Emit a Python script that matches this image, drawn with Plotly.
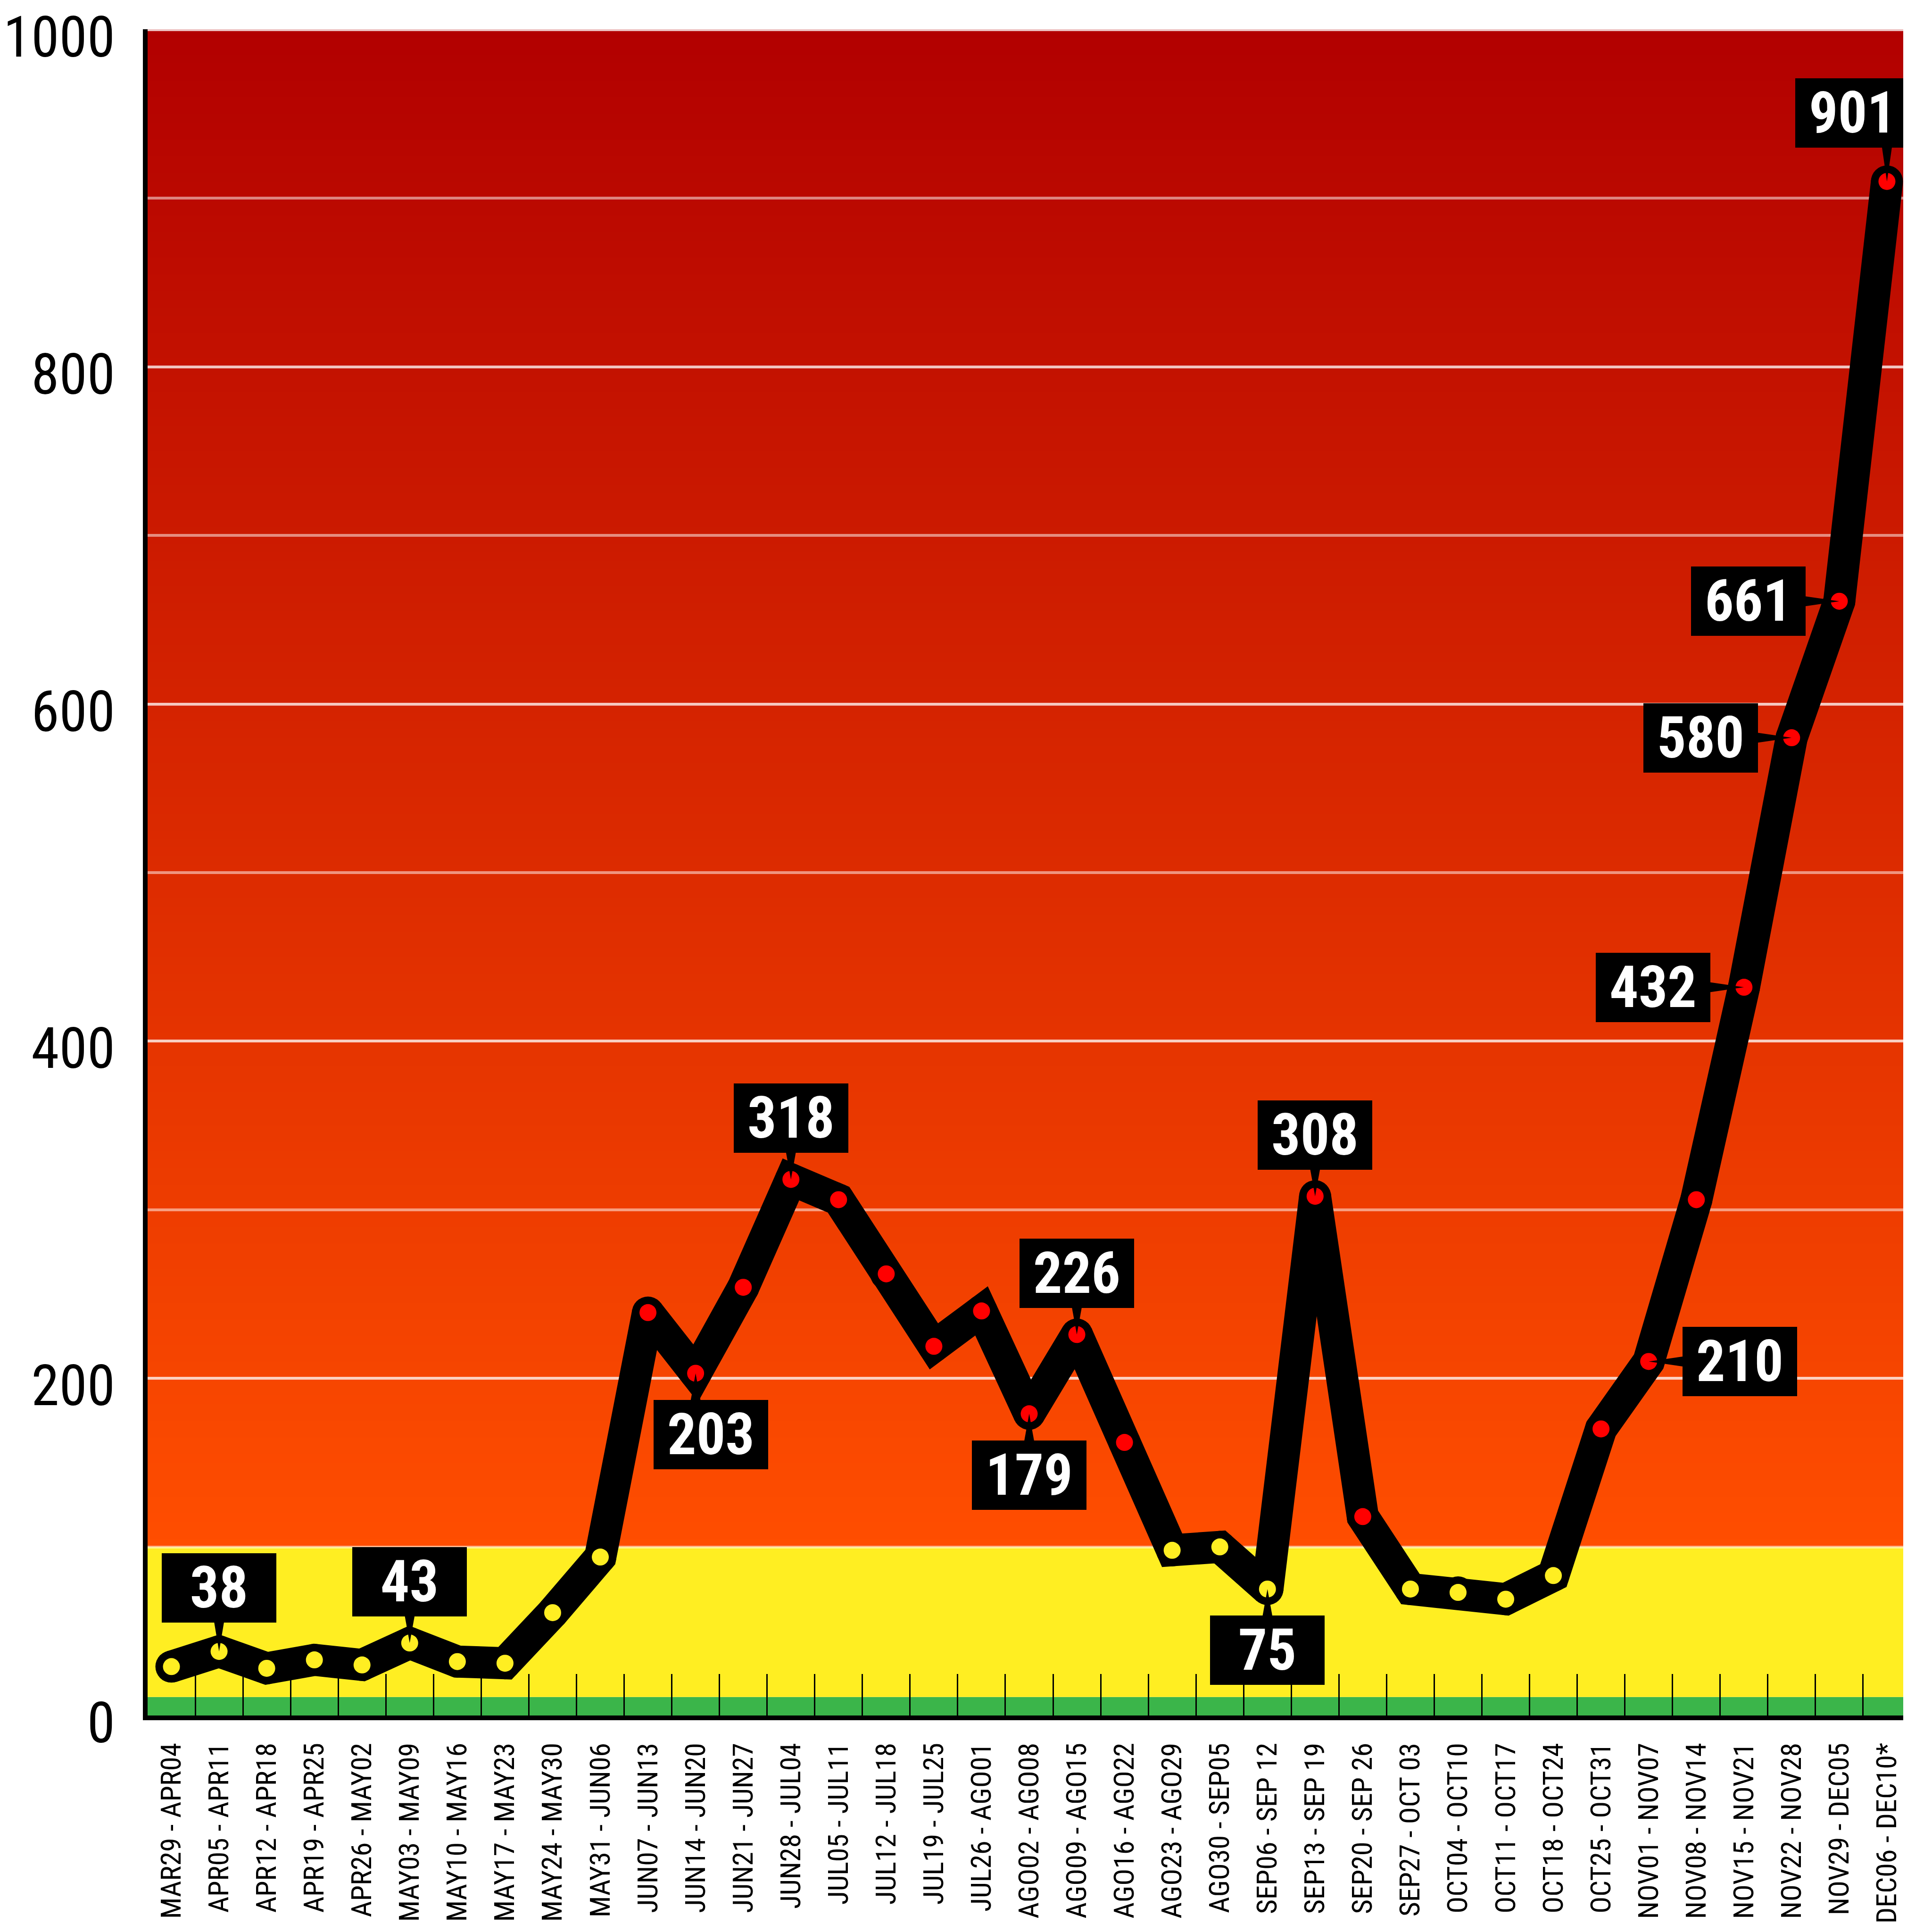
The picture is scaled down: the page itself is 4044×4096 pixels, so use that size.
import plotly.graph_objects as go

# ---------------- data ----------------
weeks = ["MAR29 - APR04", "APR05 - APR11", "APR12 - APR18", "APR19 - APR25", "APR26 - MAY02",
         "MAY03 - MAY09", "MAY10 - MAY16", "MAY17 - MAY23", "MAY24 - MAY30", "MAY31 - JUN06",
         "JUN07 - JUN13", "JUN14 - JUN20", "JUN21 - JUN27", "JUN28 - JUL04", "JUL05 - JUL11",
         "JUL12 - JUL18", "JUL19 - JUL25", "JUL26 - AGO01", "AGO02 - AGO08", "AGO09 - AGO15",
         "AGO16 - AGO22", "AGO23 - AGO29", "AGO30 - SEP05", "SEP06 - SEP 12", "SEP13 - SEP 19",
         "SEP20 - SEP 26", "SEP27 - OCT 03", "OCT04 - OCT10", "OCT11 - OCT17", "OCT18 - OCT24",
         "OCT25 - OCT31", "NOV01 - NOV07", "NOV08 - NOV14", "NOV15 - NOV21", "NOV22 - NOV28",
         "NOV29 - DEC05", "DEC06 - DEC10*"]
cases = [29, 38, 28, 33, 30, 43, 32, 31, 61, 94, 239, 203, 254, 318, 306, 262, 219, 240, 179,
         226, 162, 98, 100, 75, 308, 118, 75, 73, 69, 83, 170, 210, 306, 432, 580, 661, 910]
callout_index = [1, 5, 11, 13, 18, 19, 23, 24, 31, 33, 34, 35, 36]
callout_text = ["38", "43", "203", "318", "179", "226", "75", "308", "210", "432", "580", "661", "901"]
y_ticks = [0, 200, 400, 600, 800, 1000]
green_top = 11
yellow_top = 100
y_max = 1000

# ---------------- style ----------------
callout_side = ["up", "up", "down", "up", "down", "up", "down", "up", "right", "left", "left", "left", "up"]
side_shift = {"up": (0, 130), "down": (0, -130), "right": (193, 0), "left": (-193, 0)}
shift_override = {1: (0, 135), 11: (32, -130), 36: (-73, 145)}
BOX_W, BOX_H = 243, 147
WEDGE = 22
FONT = "Roboto Condensed, DejaVu Sans Condensed, sans-serif"
GREEN = "#3BB54A"
YELLOW = "#FFEE22"
RED_DOT = "#FF0000"
LOW = (255, 78, 0)
HIGH = (178, 0, 0)
LINE_W = 68
DOT = 36

fig = go.Figure()

# thick black line with round joins
fig.add_trace(go.Scatter(
    x=weeks, y=cases, mode="lines+markers",
    line=dict(color="black", width=LINE_W),
    marker=dict(color="black", size=LINE_W, line=dict(width=0)),
    hoverinfo="skip", showlegend=False))
# coloured dots
fig.add_trace(go.Scatter(
    x=weeks, y=cases, mode="markers",
    marker=dict(color=[YELLOW if v <= yellow_top else RED_DOT for v in cases],
                size=DOT, line=dict(width=0)),
    hoverinfo="skip", showlegend=False))

shapes = []
# background zones
shapes.append(dict(type="rect", xref="paper", yref="y", x0=0, x1=1, y0=0, y1=green_top,
                   fillcolor=GREEN, line=dict(width=0), layer="below"))
shapes.append(dict(type="rect", xref="paper", yref="y", x0=0, x1=1, y0=green_top, y1=yellow_top,
                   fillcolor=YELLOW, line=dict(width=0), layer="below"))
step = 5
for y0 in range(yellow_top, y_max, step):
    t = (y0 + step / 2 - yellow_top) / (y_max - yellow_top)
    c = tuple(round(LOW[k] + (HIGH[k] - LOW[k]) * t) for k in range(3))
    shapes.append(dict(type="rect", xref="paper", yref="y", x0=0, x1=1, y0=y0,
                       y1=min(y0 + step + 0.6, y_max + 5),
                       fillcolor="rgb(%d,%d,%d)" % c, line=dict(width=0), layer="below"))

annotations = []
for k, idx in enumerate(callout_index):
    side = callout_side[k]
    dx, dy = shift_override.get(idx, side_shift[side])
    xc, yv = weeks[idx], cases[idx]
    h = WEDGE / 2
    if side in ("up", "down"):
        sgn = 1 if dy > 0 else -1
        L = sgn * (abs(dy) - BOX_H / 2 + 4)
        path = f"M 0 0 L {-h} {L} L {h} {L} Z"
    else:
        sgn = 1 if dx > 0 else -1
        L = sgn * (abs(dx) - BOX_W / 2 + 4)
        path = f"M 0 0 L {L} {h} L {L} {-h} Z"
    shapes.append(dict(type="path", xref="x", yref="y", xsizemode="pixel", ysizemode="pixel",
                       xanchor=xc, yanchor=yv, path=path, fillcolor="black",
                       line=dict(width=0), layer="above"))
    annotations.append(dict(x=xc, y=yv, xref="x", yref="y", text=callout_text[k], showarrow=False,
                            xshift=dx, yshift=dy, width=BOX_W, height=BOX_H, bgcolor="black",
                            borderpad=0, borderwidth=0, align="center", valign="middle",
                            font=dict(family=FONT, size=122, color="white", weight="bold")))

fig.update_layout(
    width=4044, height=4096,
    margin=dict(l=305, r=0, t=54, b=467, pad=0, autoexpand=False),
    paper_bgcolor="white", plot_bgcolor="white",
    shapes=shapes, annotations=annotations,
    showlegend=False,
    xaxis=dict(type="category", range=[-0.5, 36.5], tickson="boundaries", ticks="inside",
               ticklen=88, tickwidth=2.8, tickcolor="black", tickangle=-90,
               showline=True, linewidth=10, linecolor="black", showgrid=False,
               automargin=False, ticklabelstandoff=24,
               tickfont=dict(family=FONT, size=60, color="black"), fixedrange=True),
    yaxis=dict(range=[0, y_max + 0.3], tickvals=y_ticks, ticks="", showline=True, linewidth=10,
               linecolor="black", showgrid=True, gridcolor="rgba(255,255,255,0.5)", gridwidth=6,
               minor=dict(dtick=100, showgrid=True, gridcolor="rgba(255,255,255,0.5)", gridwidth=6),
               zeroline=False, automargin=False, ticklabelstandoff=35, ticklabelshift=15,
               ticklabeloverflow="allow",
               tickfont=dict(family=FONT, size=120, color="black"), fixedrange=True),
)

fig.write_html("out.html", config={"displayModeBar": False})
